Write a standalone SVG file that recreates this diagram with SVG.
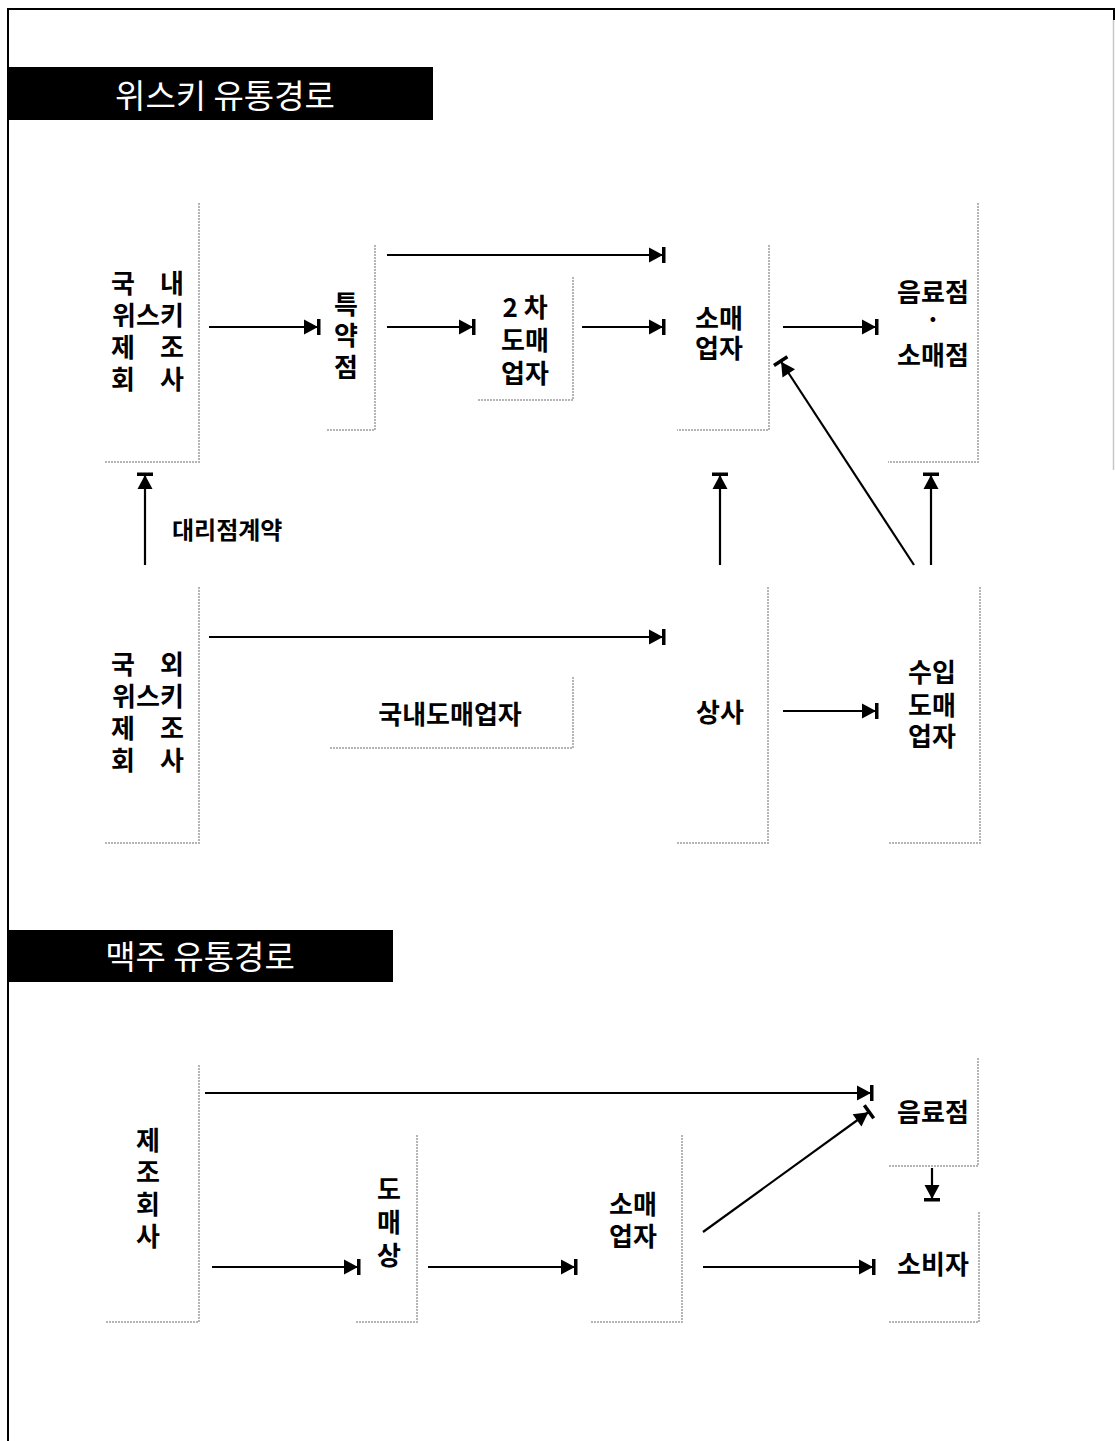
<svg xmlns="http://www.w3.org/2000/svg" width="1115" height="1441" viewBox="0 0 1115 1441">
<style>
.t{font-family:"Noto Sans CJK KR","Noto Sans",sans-serif;font-size:26px;font-weight:700;fill:#000;text-anchor:middle}
.title{font-family:"Noto Sans CJK KR","Noto Sans",sans-serif;font-size:33px;font-weight:400;fill:#fff;text-anchor:middle}
.lbl{font-family:"Noto Sans CJK KR","Noto Sans",sans-serif;font-size:24px;font-weight:700;fill:#000}
.sh{fill:none;stroke:#b5b5b5;stroke-width:2;stroke-dasharray:2 1}
.c{fill:none;stroke:#000;stroke-width:2.2;marker-end:url(#ah)}
.c2{fill:none;stroke:#000;stroke-width:2}
</style>
<defs>
<marker id="ah" markerUnits="userSpaceOnUse" markerWidth="20" markerHeight="20" refX="16" refY="8" orient="auto" overflow="visible">
<path d="M0,0.5 L14,8 L0,15.5 z" fill="#000"/>
<rect x="13" y="0" width="3.5" height="16" fill="#000"/>
</marker>
</defs>
<rect width="1115" height="1441" fill="#fff"/>
<g id="frame">
<path class="c2" d="M8,1441 L8,9 L1114,9 L1114,20"/>
<line x1="1113.5" y1="20" x2="1113.5" y2="470" stroke="#c8c8c8" stroke-width="1.5"/>
</g>
<g id="title-whisky">
<rect x="8" y="67" width="425" height="53" fill="#000"/>
<text class="title" x="225" y="108">위스키 유통경로</text>
</g>
<g id="title-beer">
<rect x="8" y="930" width="385" height="52" fill="#000"/>
<text class="title" x="200" y="969">맥주 유통경로</text>
</g>
<g id="n-domestic">
<path class="sh" d="M199,203 L199,462 L105,462"/>
<text class="t"><tspan x="123" y="293">국</tspan><tspan x="172" y="293">내</tspan><tspan x="148" y="325">위스키</tspan><tspan x="123" y="357">제</tspan><tspan x="172" y="357">조</tspan><tspan x="123" y="389">회</tspan><tspan x="172" y="389">사</tspan></text>
</g>
<g id="n-special">
<path class="sh" d="M375,245 L375,430 L327,430"/>
<text class="t"><tspan x="346" y="314">특</tspan><tspan x="346" y="345">약</tspan><tspan x="346" y="377">점</tspan></text>
</g>
<g id="n-second">
<path class="sh" d="M573,277 L573,400 L477,400"/>
<text class="t"><tspan x="525" y="317">2 차</tspan><tspan x="525" y="350">도매</tspan><tspan x="525" y="383">업자</tspan></text>
</g>
<g id="n-retail">
<path class="sh" d="M769,245 L769,430 L677,430"/>
<text class="t"><tspan x="719" y="328">소매</tspan><tspan x="719" y="358">업자</tspan></text>
</g>
<g id="n-bar">
<path class="sh" d="M978,203 L978,462 L888,462"/>
<text class="t"><tspan x="933" y="302">음료점</tspan><tspan x="933" y="329">·</tspan><tspan x="933" y="365">소매점</tspan></text>
</g>
<g id="n-foreign">
<path class="sh" d="M199,587 L199,843 L105,843"/>
<text class="t"><tspan x="123" y="674">국</tspan><tspan x="172" y="674">외</tspan><tspan x="148" y="706">위스키</tspan><tspan x="123" y="738">제</tspan><tspan x="172" y="738">조</tspan><tspan x="123" y="770">회</tspan><tspan x="172" y="770">사</tspan></text>
</g>
<g id="n-domwholesale">
<path class="sh" d="M573,677 L573,748 L330,748"/>
<text class="t" x="450" y="724">국내도매업자</text>
</g>
<g id="n-trading">
<path class="sh" d="M768,587 L768,843 L677,843"/>
<text class="t" x="720" y="722">상사</text>
</g>
<g id="n-import">
<path class="sh" d="M980,587 L980,843 L888,843"/>
<text class="t"><tspan x="932" y="682">수입</tspan><tspan x="932" y="715">도매</tspan><tspan x="932" y="746">업자</tspan></text>
</g>
<g id="n-brewer">
<path class="sh" d="M199,1065 L199,1322 L105,1322"/>
<text class="t"><tspan x="148" y="1150">제</tspan><tspan x="148" y="1182">조</tspan><tspan x="148" y="1214">회</tspan><tspan x="148" y="1246">사</tspan></text>
</g>
<g id="n-wholesaler">
<path class="sh" d="M417,1135 L417,1322 L355,1322"/>
<text class="t"><tspan x="389" y="1199">도</tspan><tspan x="389" y="1232">매</tspan><tspan x="389" y="1265">상</tspan></text>
</g>
<g id="n-retail2">
<path class="sh" d="M682,1135 L682,1322 L590,1322"/>
<text class="t"><tspan x="633" y="1214">소매</tspan><tspan x="633" y="1246">업자</tspan></text>
</g>
<g id="n-bar2">
<path class="sh" d="M978,1058 L978,1166 L888,1166"/>
<text class="t" x="933" y="1122">음료점</text>
</g>
<g id="n-consumer">
<path class="sh" d="M979,1212 L979,1322 L888,1322"/>
<text class="t" x="933" y="1274">소비자</text>
</g>
<text class="lbl" x="172" y="539">대리점계약</text>
<g id="connectors">
<path class="c" d="M209,327 L320,327"/>
<path class="c" d="M387,327 L475,327"/>
<path class="c" d="M582,327 L665,327"/>
<path class="c" d="M387,255 L665,255"/>
<path class="c" d="M783,327 L878,327"/>
<path class="c" d="M145,565 L145,473"/>
<path class="c" d="M720,565 L720,473"/>
<path class="c" d="M931,565 L931,473"/>
<path class="c" d="M914,565 L780,360"/>
<path class="c" d="M209,637 L665,637"/>
<path class="c" d="M783,711 L878,711"/>
<path class="c" d="M205,1093 L873,1093"/>
<path class="c" d="M212,1267 L360,1267"/>
<path class="c" d="M428,1267 L577,1267"/>
<path class="c" d="M703,1267 L875,1267"/>
<path class="c" d="M703,1232 L870,1111"/>
<path class="c" d="M932,1168 L932,1201"/>
</g>
</svg>
